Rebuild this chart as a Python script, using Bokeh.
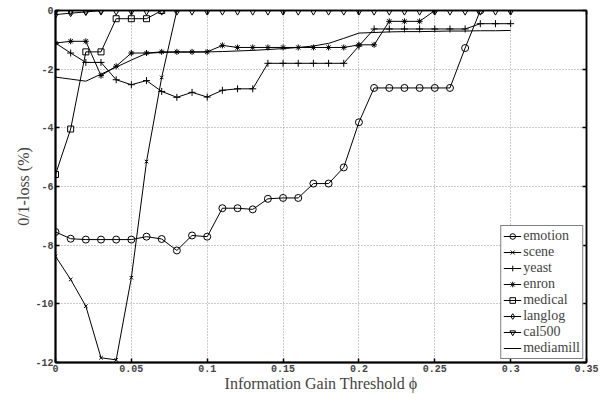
from bokeh.plotting import figure
from bokeh.models import (Legend, LegendItem, LinearAxis, FixedTicker,
                          CustomJSTickFormatter, CustomLabelingPolicy, Range1d)
from bokeh.embed import file_html
from bokeh.resources import INLINE

phi = [0.00, 0.01, 0.02, 0.03, 0.04, 0.05, 0.06, 0.07, 0.08, 0.09, 0.10,
       0.11, 0.12, 0.13, 0.14, 0.15, 0.16, 0.17, 0.18, 0.19, 0.20,
       0.21, 0.22, 0.23, 0.24, 0.25, 0.26, 0.27, 0.28, 0.29, 0.30]

emotion = [-7.55, -7.78, -7.81, -7.81, -7.81, -7.81, -7.71, -7.79, -8.18, -7.67,
           -7.71, -6.74, -6.74, -6.78, -6.42, -6.39, -6.39, -5.90, -5.90, -5.35,
           -3.81, -2.64, -2.64, -2.64, -2.64, -2.64, -2.64, -1.28, 0.0]
scene = [-8.38, -9.17, -10.08, -11.84, -11.91, -9.11, -5.15, -2.28, 0.0]
yeast = [-1.11, -1.45, -1.77, -1.77, -2.36, -2.53, -2.39, -2.76, -2.96, -2.79,
         -2.95, -2.72, -2.67, -2.67, -1.80, -1.80, -1.80, -1.80, -1.80, -1.80,
         -1.21, -0.63, -0.63, -0.63, -0.63, -0.63, -0.63, -0.63, -0.45, -0.45, -0.45]
enron = [-1.11, -1.05, -1.05, -2.22, -1.90, -1.45, -1.45, -1.41, -1.41, -1.41,
         -1.41, -1.19, -1.26, -1.26, -1.26, -1.26, -1.26, -1.26, -1.26, -1.26,
         -1.17, -1.17, -0.37, -0.37, -0.37, 0.0]
medical = [-5.59, -4.04, -1.41, -1.41, -0.28, -0.28, -0.28, 0.0]
langlog = [-0.14, -0.09, -0.05, 0.0]
cal500 = [0.0, 0.0, 0.0, 0.0, 0.0, 0.0, 0.0, 0.0, 0.0, 0.0, 0.0,
          0.0, 0.0, 0.0, 0.0, 0.0, 0.0, 0.0, 0.0, 0.0, 0.0,
          0.0, 0.0, 0.0, 0.0, 0.0, 0.0, 0.0, 0.0, 0.0, 0.0]
mediamill = [-2.27, -2.34, -2.41, -2.17, -1.93, -1.69, -1.46, -1.43, -1.42, -1.42,
             -1.41, -1.40, -1.38, -1.36, -1.33, -1.30, -1.26, -1.21, -1.12, -0.95,
             -0.77, -0.75, -0.73, -0.72, -0.72, -0.71, -0.70, -0.70, -0.69, -0.69, -0.68]

series_names = ["emotion", "scene", "yeast", "enron", "medical", "langlog", "cal500", "mediamill"]
series_values = [emotion, scene, yeast, enron, medical, langlog, cal500, mediamill]
markers = ["circle", "x", "cross", "asterisk", "square", "diamond", "inverted_triangle", None]
marker_sizes = [7, 5, 7, 6, 6, 7, 8, 0]

x_ticks = [0, 0.05, 0.1, 0.15, 0.2, 0.25, 0.3, 0.35]
y_ticks = [-12, -10, -8, -6, -4, -2, 0]

SERIF = "Liberation Serif"
MONO = "Liberation Mono"

p = figure(width=607, height=394, output_backend="svg", toolbar_location=None,
           x_range=Range1d(0, 0.35), y_range=Range1d(-12, 0),
           min_border_left=55, min_border_right=21, min_border_top=10,
           min_border_bottom=32, x_axis_label="Information Gain Threshold ϕ",
           y_axis_label="0/1-loss (%)")
p.background_fill_color = "white"
p.border_fill_color = "white"
p.outline_line_color = "black"
p.outline_line_width = 1.5

fmt = CustomJSTickFormatter(code="return String(Math.round(tick*100)/100)")

for ax, ticks in ((p.xaxis[0], x_ticks), (p.yaxis[0], y_ticks)):
    ax.ticker = FixedTicker(ticks=ticks)
    ax.formatter = fmt
    ax.major_tick_in = 4
    ax.major_tick_out = 0
    ax.minor_tick_line_color = None
    ax.axis_line_width = 2
    ax.major_tick_line_width = 1.5
    ax.major_label_text_font = MONO
    ax.major_label_text_font_style = "bold"
    ax.major_label_text_font_size = "10px"
    ax.major_label_standoff = 2
    ax.axis_label_text_font = SERIF
    ax.axis_label_text_font_style = "normal"
    ax.axis_label_text_font_size = "16px"
    ax.axis_label_standoff = 0

# tick marks only (no labels) on the top and right edges of the box
no_labels = CustomLabelingPolicy(code="return []")
for side, ticks in (("above", x_ticks), ("right", y_ticks)):
    ax = LinearAxis(ticker=FixedTicker(ticks=ticks), major_tick_in=4, major_tick_out=0,
                    minor_tick_line_color=None, major_label_text_font_size="0px",
                    major_label_standoff=0, major_label_policy=no_labels,
                    axis_line_width=1.5, major_tick_line_width=1.5)
    p.add_layout(ax, side)

for g in (p.xgrid[0], p.ygrid[0]):
    g.grid_line_color = "#999999"
    g.grid_line_dash = "1 2"
    g.grid_line_width = 1
p.xgrid[0].ticker = FixedTicker(ticks=x_ticks)
p.ygrid[0].ticker = FixedTicker(ticks=y_ticks)

items = []
for name, vals, mk, ms in zip(series_names, series_values, markers, marker_sizes):
    xs = phi[:len(vals)]
    rs = [p.line(xs, vals, line_color="black", line_width=1)]
    if mk is not None:
        rs.append(p.scatter(xs, vals, marker=mk, size=ms, line_color="black",
                            fill_color=None, line_width=1))
    items.append(LegendItem(label=name, renderers=rs))

legend = Legend(items=items, location="bottom_right")
legend.margin = 3
legend.padding = 2
legend.spacing = 0
legend.glyph_width = 18
legend.glyph_height = 14
legend.label_height = 14
legend.label_standoff = 2
legend.label_text_font = SERIF
legend.label_text_font_size = "14px"
legend.border_line_color = "black"
legend.border_line_width = 1.5
legend.background_fill_color = "white"
legend.background_fill_alpha = 1
p.add_layout(legend)

open("out.html", "w").write(file_html(p, INLINE))
